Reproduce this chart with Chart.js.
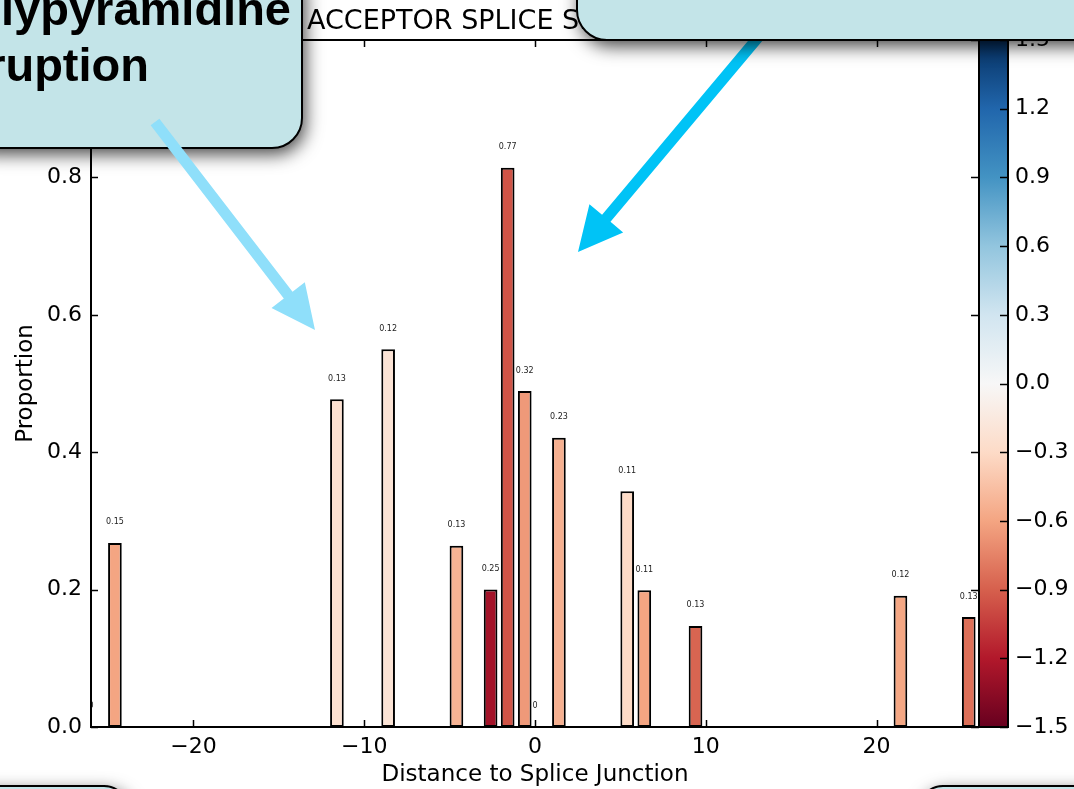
<!DOCTYPE html>
<html>
<head>
<meta charset="utf-8">
<script src="https://cdn.jsdelivr.net/npm/chart.js@4.4.1/dist/chart.umd.min.js"></script>
<style>
  html, body { margin: 0; padding: 0; background: #ffffff; }
  #wrap { position: relative; width: 1074px; height: 789px; }
</style>
</head>
<body>
<div id="wrap"><canvas id="chart"></canvas></div>
<script>
// Distance of each site to the splice junction (left edge of its bar)
const positions   = [-26, -25, -12, -9, -5, -3, -2, -1, 0, 1, 5, 6, 9, 21, 25];
// Proportion observed at each distance
const proportions = [0, 0.268, 0.477, 0.550, 0.264, 0.200, 0.814, 0.489, 0, 0.421, 0.343, 0.199, 0.147, 0.191, 0.160];
// Small annotation printed above each bar
const annotations = ['0', '0.15', '0.13', '0.12', '0.13', '0.25', '0.77', '0.32', '0', '0.23', '0.11', '0.11', '0.13', '0.12', '0.13'];
// Score mapped through the colour bar
const scores      = [0, -0.60, -0.245, -0.21, -0.52, -1.26, -0.95, -0.65, 0, -0.54, -0.30, -0.60, -0.88, -0.59, -0.83];

const xTicks  = [-20, -10, 0, 10, 20];
const yTicks  = [0.0, 0.2, 0.4, 0.6, 0.8, 1.0];
const cbTicks = [-1.5, -1.2, -0.9, -0.6, -0.3, 0.0, 0.3, 0.6, 0.9, 1.2, 1.5];

const BAR_WIDTH = 0.8;
const LABEL_OFFSET = 0.03;
const CB_MIN = -1.5, CB_MAX = 1.5;

// RdBu diverging colour map
const RDBU = ['#67001f', '#b2182b', '#d6604d', '#f4a582', '#fddbc7', '#f7f7f7',
              '#d1e5f0', '#92c5de', '#4393c3', '#2166ac', '#053061'];

function hexToRgb(h) {
  const n = parseInt(h.slice(1), 16);
  return [(n >> 16) & 255, (n >> 8) & 255, n & 255];
}
function rdbu(v) {
  let t = (v - CB_MIN) / (CB_MAX - CB_MIN);
  t = Math.max(0, Math.min(1, t));
  const f = t * (RDBU.length - 1);
  const i = Math.min(RDBU.length - 2, Math.floor(f));
  const u = f - i;
  const a = hexToRgb(RDBU[i]), b = hexToRgb(RDBU[i + 1]);
  const c = a.map((x, k) => Math.round(x + (b[k] - x) * u));
  return `rgb(${c[0]},${c[1]},${c[2]})`;
}
const fmt = v => (Math.abs(v) < 1e-9 ? '0.0' : v.toFixed(1)).replace('-', '\u2212');
const fmtInt = v => String(v).replace('-', '\u2212');

const FONT = '"DejaVu Sans", sans-serif';

function roundRect(ctx, x, y, w, h, r) {
  ctx.beginPath();
  ctx.moveTo(x + r, y);
  ctx.lineTo(x + w - r, y);
  ctx.arcTo(x + w, y, x + w, y + r, r);
  ctx.lineTo(x + w, y + h - r);
  ctx.arcTo(x + w, y + h, x + w - r, y + h, r);
  ctx.lineTo(x + r, y + h);
  ctx.arcTo(x, y + h, x, y + h - r, r);
  ctx.lineTo(x, y + r);
  ctx.arcTo(x, y, x + r, y, r);
  ctx.closePath();
}

function callout(ctx, x, y, w, h, r) {
  ctx.save();
  ctx.shadowColor = 'rgba(0,0,0,0.75)';
  ctx.shadowBlur = 18;
  ctx.shadowOffsetX = 3;
  ctx.shadowOffsetY = 6;
  roundRect(ctx, x, y, w, h, r);
  ctx.fillStyle = '#c3e4e8';
  ctx.fill();
  ctx.restore();
  ctx.save();
  roundRect(ctx, x, y, w, h, r);
  ctx.lineWidth = 2;
  ctx.strokeStyle = '#000';
  ctx.stroke();
  ctx.restore();
}

function arrow(ctx, sx, sy, tx, ty, shaft, headLen, headHalf, color) {
  const dx = tx - sx, dy = ty - sy;
  const L = Math.hypot(dx, dy);
  const ux = dx / L, uy = dy / L;
  const nx = -uy, ny = ux;
  const bx = tx - ux * headLen, by = ty - uy * headLen;
  ctx.save();
  ctx.beginPath();
  ctx.moveTo(sx + nx * shaft / 2, sy + ny * shaft / 2);
  ctx.lineTo(bx + nx * shaft / 2, by + ny * shaft / 2);
  ctx.lineTo(bx + nx * headHalf, by + ny * headHalf);
  ctx.lineTo(tx, ty);
  ctx.lineTo(bx - nx * headHalf, by - ny * headHalf);
  ctx.lineTo(bx - nx * shaft / 2, by - ny * shaft / 2);
  ctx.lineTo(sx - nx * shaft / 2, sy - ny * shaft / 2);
  ctx.closePath();
  ctx.fillStyle = color;
  ctx.fill();
  ctx.restore();
}

const decorations = {
  id: 'decorations',
  afterDatasetsDraw(chart) {
    const { ctx, chartArea: a } = chart;
    const xs = chart.scales.x, ys = chart.scales.y;
    // value annotations above bars
    ctx.save();
    ctx.beginPath();
    ctx.rect(a.left, a.top, a.right - a.left, a.bottom - a.top);
    ctx.clip();
    ctx.font = `8px ${FONT}`;
    ctx.fillStyle = '#222';
    ctx.textAlign = 'center';
    ctx.textBaseline = 'middle';
    positions.forEach((p, i) => {
      const cx = proportions[i] > 0 ? p + BAR_WIDTH / 2 : p;
      ctx.fillText(annotations[i], xs.getPixelForValue(cx), ys.getPixelForValue(proportions[i] + LABEL_OFFSET));
    });
    ctx.restore();
  },
  afterDraw(chart) {
    const { ctx, chartArea: a } = chart;
    const xs = chart.scales.x, ys = chart.scales.y, cb = chart.scales.cb;

    // colour bar
    const cbL = a.right, cbR = a.right + 29;
    const g = ctx.createLinearGradient(0, cb.getPixelForValue(CB_MIN), 0, cb.getPixelForValue(CB_MAX));
    RDBU.forEach((c, i) => g.addColorStop(i / (RDBU.length - 1), c));
    ctx.save();
    ctx.fillStyle = g;
    ctx.fillRect(cbL, a.top, cbR - cbL, a.bottom - a.top);
    ctx.strokeStyle = '#000';
    ctx.lineWidth = 1.5;
    cbTicks.forEach(v => {
      const y = Math.round(cb.getPixelForValue(v)) + 0.5;
      ctx.beginPath();
      ctx.moveTo(cbR, y);
      ctx.lineTo(cbR - 8, y);
      ctx.stroke();
    });
    ctx.lineWidth = 2;
    ctx.strokeRect(cbL, a.top, cbR - cbL, a.bottom - a.top);
    ctx.restore();

    // axes frame and inward ticks
    ctx.save();
    ctx.strokeStyle = '#000';
    ctx.lineWidth = 1.5;
    xTicks.forEach(v => {
      const x = Math.round(xs.getPixelForValue(v)) + 0.5;
      ctx.beginPath();
      ctx.moveTo(x, a.bottom); ctx.lineTo(x, a.bottom - 7);
      ctx.moveTo(x, a.top); ctx.lineTo(x, a.top + 7);
      ctx.stroke();
    });
    yTicks.forEach(v => {
      const y = Math.round(ys.getPixelForValue(v)) + 0.5;
      ctx.beginPath();
      ctx.moveTo(a.left, y); ctx.lineTo(a.left + 7, y);
      ctx.moveTo(a.right, y); ctx.lineTo(a.right - 8, y);
      ctx.stroke();
    });
    ctx.lineWidth = 2;
    ctx.strokeRect(a.left, a.top, a.right - a.left, a.bottom - a.top);
    ctx.restore();

    // title
    ctx.save();
    ctx.font = `27px ${FONT}`;
    ctx.fillStyle = '#000';
    ctx.textAlign = 'left';
    ctx.textBaseline = 'alphabetic';
    ctx.fillText('ACCEPTOR SPLICE SITE', 307, 29);
    ctx.restore();

    // annotation callouts
    callout(ctx, -40, -40, 342, 188, 30);
    ctx.save();
    ctx.font = `bold 47px "Liberation Sans", Arial, sans-serif`;
    ctx.fillStyle = '#000';
    ctx.textAlign = 'right';
    ctx.textBaseline = 'alphabetic';
    ctx.fillText('Polypyramidine', 291, 25);
    ctx.fillText('Tract Disruption', 149, 81);
    ctx.restore();
    arrow(ctx, 155, 122, 315, 330, 11, 44, 21, '#8fdffa');
    arrow(ctx, 771, 22, 578, 252, 11, 44, 22, '#00c3f6');
    callout(ctx, 577, -40, 560, 80, 30);
    callout(ctx, -40, 786, 168, 60, 24);
    callout(ctx, 919, 786, 200, 60, 24);
  }
};

const ctx = document.getElementById('chart').getContext('2d');
new Chart(ctx, {
  type: 'bar',
  data: {
    datasets: [{
      data: positions.map((p, i) => ({ x: p + BAR_WIDTH / 2, y: proportions[i] })),
      backgroundColor: scores.map(rdbu),
      borderColor: '#000',
      borderWidth: c => (c.raw && c.raw.y > 0 ? 2 : 0),
      borderSkipped: false,
      barPercentage: BAR_WIDTH,
      categoryPercentage: 1.0,
      yAxisID: 'y'
    }]
  },
  options: {
    responsive: true,
    maintainAspectRatio: false,
    animation: false,
    events: [],
    layout: { padding: { top: 40, left: 0, right: 0, bottom: 0 } },
    plugins: { legend: { display: false }, tooltip: { enabled: false }, title: { display: false } },
    scales: {
      x: {
        type: 'linear',
        position: 'bottom',
        offset: false,
        min: -26, max: 26,
        grid: { display: false, drawTicks: false, offset: false },
        border: { display: false },
        afterBuildTicks: s => { s.ticks = xTicks.map(v => ({ value: v })); },
        afterFit: s => { s.height = 62; },
        ticks: {
          autoSkip: false, maxRotation: 0, padding: 7,
          color: '#000', font: { family: FONT, size: 22 },
          callback: v => fmtInt(v)
        },
        title: {
          display: true, text: 'Distance to Splice Junction', color: '#000',
          font: { family: FONT, size: 23 }, padding: { top: 0, bottom: 0 }
        }
      },
      y: {
        type: 'linear',
        position: 'left',
        min: 0, max: 1.0,
        grid: { display: false, drawTicks: false },
        border: { display: false },
        afterBuildTicks: s => { s.ticks = yTicks.map(v => ({ value: v })); },
        afterFit: s => { s.width = 91; },
        ticks: {
          autoSkip: false, padding: 9,
          color: '#000', font: { family: FONT, size: 22 },
          callback: v => fmt(v)
        },
        title: {
          display: true, text: 'Proportion', color: '#000',
          font: { family: FONT, size: 23 }, padding: { top: 12, bottom: 0 }
        }
      },
      cb: {
        type: 'linear',
        position: 'right',
        min: CB_MIN, max: CB_MAX,
        grid: { display: true, drawOnChartArea: false, drawTicks: true, tickLength: 33, color: 'transparent', tickColor: 'transparent' },
        border: { display: false },
        afterBuildTicks: s => { s.ticks = cbTicks.map(v => ({ value: v })); },
        afterFit: s => { s.width = 95; },
        ticks: {
          autoSkip: false, padding: 3,
          color: '#000', font: { family: FONT, size: 22 },
          callback: v => fmt(v)
        }
      }
    }
  },
  plugins: [decorations]
});
</script>
</body>
</html>
